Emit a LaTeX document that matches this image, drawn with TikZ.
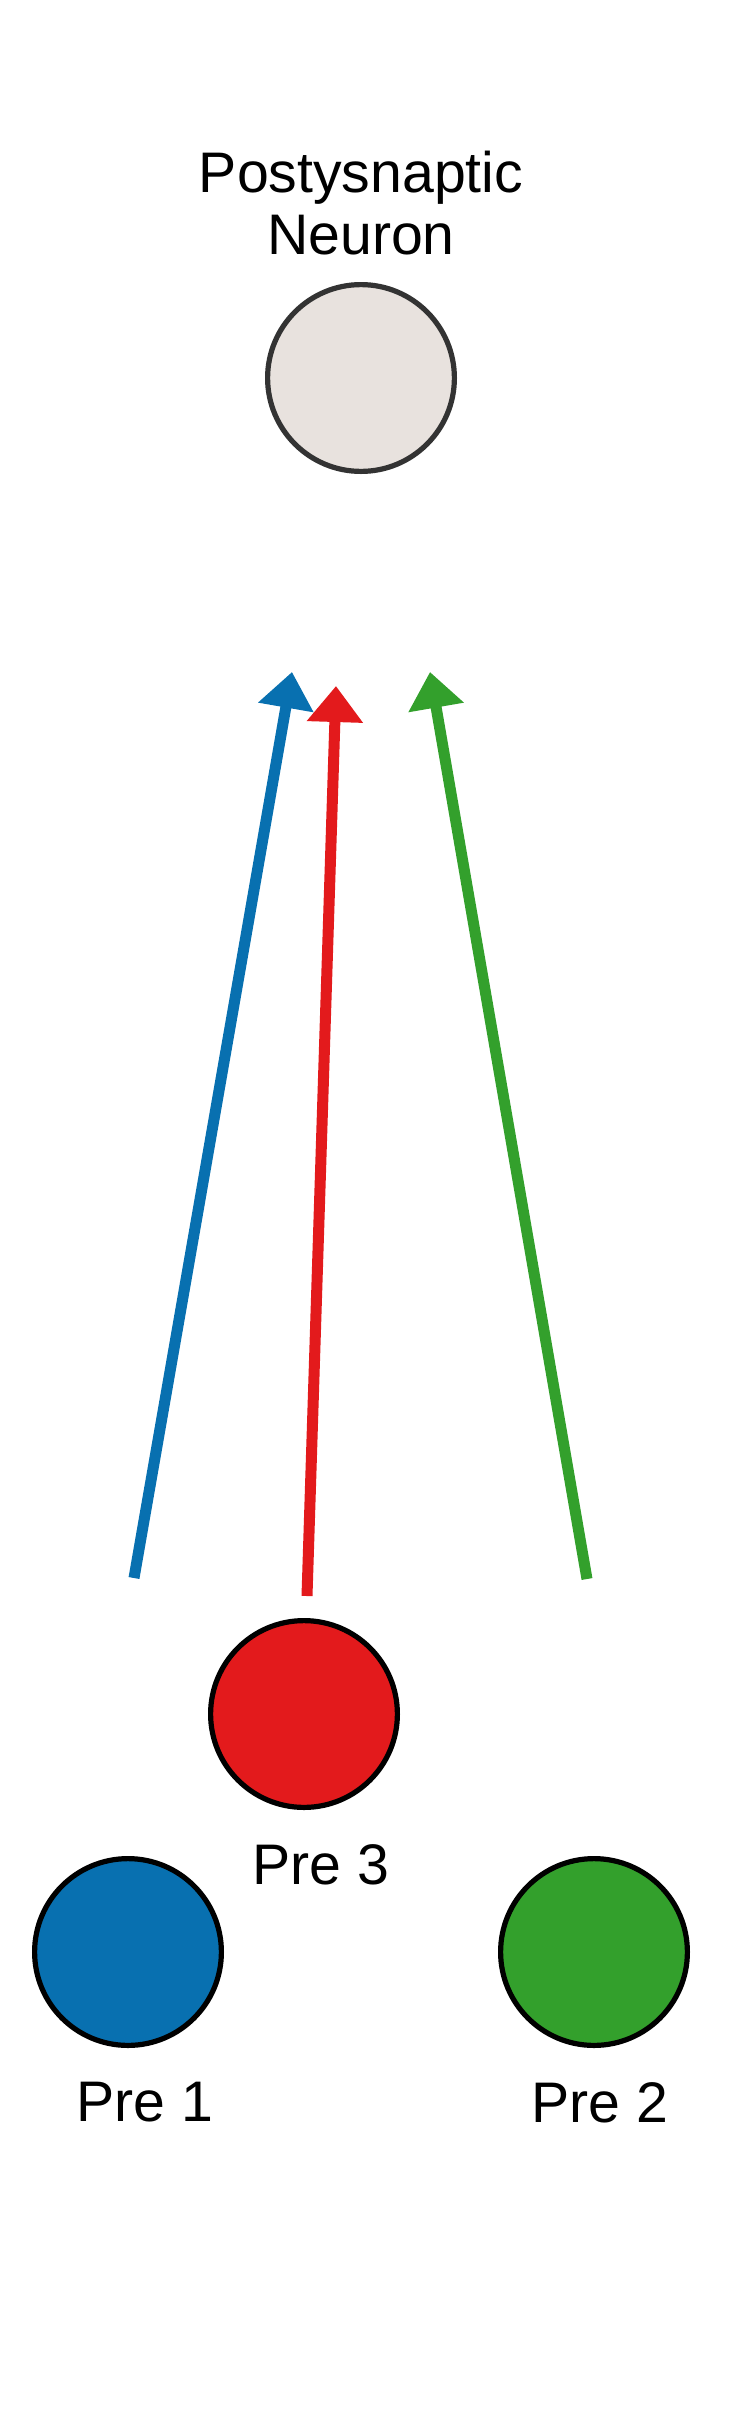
\documentclass[tikz,border=0pt]{standalone}
\usepackage{fontspec}
\setmainfont{Liberation Sans}
\usetikzlibrary{arrows.meta,positioning}
\definecolor{PreBlue}{HTML}{0870B0}
\definecolor{PreRed}{HTML}{E31A1C}
\definecolor{PreGreen}{HTML}{33A02C}
\definecolor{PostFill}{HTML}{E8E2DE}
\definecolor{PostRim}{HTML}{333333}

\begin{document}
\begin{tikzpicture}[x=0.5pt,y=-0.5pt,
  every node/.style={font=\fontsize{28.6}{31}\selectfont,align=center,inner sep=0pt},
  neuron/.style={circle,draw=black,line width=2.6pt,minimum size=93.4pt},
  postneuron/.style={neuron,draw=PostRim,fill=PostFill},
  syn/.style={-{Triangle[length=18pt,width=27pt]},line width=5.5pt}
]
\fill[white] (0,0) rectangle (729,2420);
\useasboundingbox (0,0) rectangle (729,2420);
\node[postneuron] (post) at (361,378) {};
\node[above=13.5pt of post] (postlbl) {Postysnaptic\\Neuron};
\node[neuron,fill=PreRed] (pre3) at (304,1714) {};
\node[neuron,fill=PreBlue] (pre1) at (128,1952) {};
\node[neuron,fill=PreGreen] (pre2) at (594,1952) {};
\node[below=17pt of pre3,xshift=8.5pt] (pre3lbl) {Pre 3};
\node[below=17pt of pre1,xshift=8.5pt] (pre1lbl) {Pre 1};
\node[below=17pt of pre2,xshift=3pt] (pre2lbl) {Pre 2};
% synapse ends
\coordinate (t1) at (134,1578);
\coordinate (h1) at (292,672);
\coordinate (t3) at (307,1596);
\coordinate (h3) at (336,686);
\coordinate (t2) at (587,1579);
\coordinate (h2) at (430,672);
\draw[syn,PreBlue] (t1)--(h1);
\draw[syn,PreRed] (t3)--(h3);
\draw[syn,PreGreen] (t2)--(h2);
\end{tikzpicture}
\end{document}
